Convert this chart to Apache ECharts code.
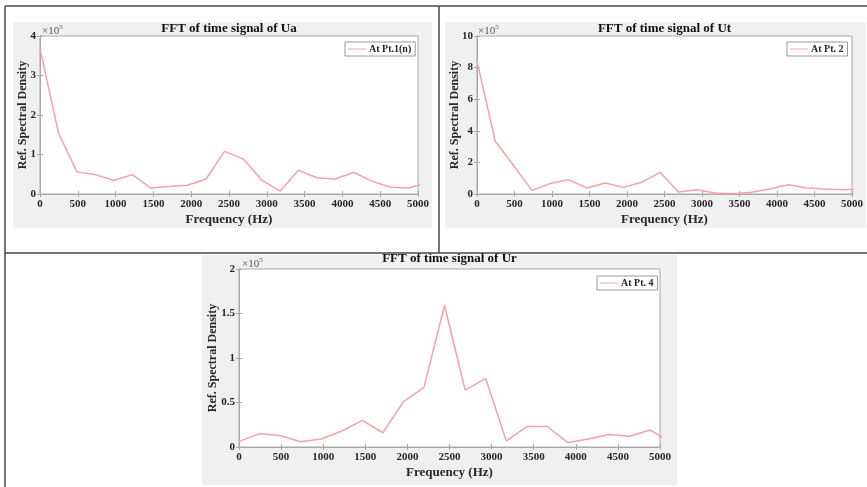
<!DOCTYPE html>
<html>
<head>
<meta charset="utf-8">
<script src="https://cdn.jsdelivr.net/npm/echarts@6/dist/echarts.min.js"></script>
<style>
  html, body { margin: 0; padding: 0; background: #fff; }
  #chart { width: 867px; height: 487px; }
</style>
</head>
<body>
<div id="chart"></div>
<script>
// FFT bins (Hz) shared by all three spectra
const freqHz = [0, 244, 488, 732, 977, 1221, 1465, 1709, 1953, 2197, 2441,
                2686, 2930, 3174, 3418, 3662, 3906, 4150, 4395, 4639, 4883, 5127];

// Reference spectral density, in units of 1e5
const densityUa = [3.68, 1.55, 0.56, 0.49, 0.34, 0.49, 0.15, 0.19, 0.22, 0.38, 1.08,
                   0.89, 0.36, 0.07, 0.60, 0.41, 0.38, 0.55, 0.32, 0.17, 0.15, 0.29];
const densityUt = [8.41, 3.34, 1.80, 0.23, 0.66, 0.91, 0.38, 0.70, 0.42, 0.74, 1.37,
                   0.13, 0.27, 0.06, 0.02, 0.11, 0.32, 0.59, 0.38, 0.32, 0.27, 0.33];
const densityUr = [0.06, 0.15, 0.13, 0.06, 0.09, 0.18, 0.30, 0.16, 0.51, 0.67, 1.59,
                   0.64, 0.77, 0.07, 0.23, 0.23, 0.05, 0.09, 0.14, 0.12, 0.19, 0.06];

const titles = ['FFT of time signal of Ua', 'FFT of time signal of Ut', 'FFT of time signal of Ur'];
const seriesNames = ['At Pt.1(n)', 'At Pt. 2', 'At Pt. 4'];
const yMax = [4, 10, 2];
const yStep = [1, 2, 0.5];
const xTicks = { min: 0, max: 5000, interval: 500 };
const exponentLabel = '5';

const FONT = '"Liberation Serif", "DejaVu Serif", serif';
const LINE = '#f5a2a8';
const AXIS = '#a9a9a9';
const TEXT = '#262626';

// plot boxes [left, top, width, height]
const boxes = [
  [40, 36, 378, 158],
  [477, 36, 375, 158],
  [239, 269, 421, 178]
];
const yNameGap = [11, 16, 20];
const titleTop = [22, 22, 252];
const legendPos = [[345, 42], [787, 42], [597, 276]];

const chart = echarts.init(document.getElementById('chart'), null, { renderer: 'canvas' });

const grids = [], xAxes = [], yAxes = [], series = [], legends = [], titleList = [];
const data = [densityUa, densityUt, densityUr];
const plain = v => String(v);

boxes.forEach((b, i) => {
  grids.push({
    left: b[0], top: b[1], width: b[2], height: b[3],
    show: true, backgroundColor: '#ffffff', borderColor: AXIS, borderWidth: 1
  });
  const axisLine = { show: true, lineStyle: { color: AXIS, width: 1 } };
  const tick = { show: true, inside: true, length: 3, lineStyle: { color: AXIS } };
  // bottom + top x axes
  xAxes.push({
    type: 'value', gridIndex: i, ...xTicks, position: 'bottom',
    axisLine, axisTick: tick, splitLine: { show: false },
    axisLabel: { margin: 5, color: TEXT, fontFamily: FONT, fontWeight: 'bold', fontSize: 11, formatter: plain },
    name: 'Frequency (Hz)', nameLocation: 'middle', nameGap: 19,
    nameTextStyle: { color: TEXT, fontFamily: FONT, fontWeight: 'bold', fontSize: 13 }
  });
  xAxes.push({
    type: 'value', gridIndex: i, ...xTicks, position: 'top',
    axisLine, axisTick: tick, splitLine: { show: false }, axisLabel: { show: false }
  });
  // left + right y axes
  yAxes.push({
    type: 'value', gridIndex: i, min: 0, max: yMax[i], interval: yStep[i], position: 'left',
    axisLine, axisTick: tick, splitLine: { show: false },
    axisLabel: { margin: 4, color: TEXT, fontFamily: FONT, fontWeight: 'bold', fontSize: 11, formatter: plain },
    name: 'Ref. Spectral Density', nameLocation: 'middle', nameGap: yNameGap[i],
    nameMoveOverlap: false,
    nameTextStyle: { color: TEXT, fontFamily: FONT, fontWeight: 'bold', fontSize: 12 }
  });
  yAxes.push({
    type: 'value', gridIndex: i, min: 0, max: yMax[i], interval: yStep[i], position: 'right',
    axisLine, axisTick: tick, splitLine: { show: false }, axisLabel: { show: false }
  });
  series.push({
    type: 'line', name: seriesNames[i], xAxisIndex: i * 2, yAxisIndex: i * 2,
    data: freqHz.map((f, k) => [f, data[i][k]]),
    showSymbol: false, clip: true, animation: false,
    lineStyle: { color: LINE, width: 1.5 }, itemStyle: { color: LINE }
  });
  legends.push({
    data: [seriesNames[i]], left: legendPos[i][0], top: legendPos[i][1],
    orient: 'vertical', itemWidth: 18, itemHeight: 8, itemGap: 0,
    padding: [2, 4, 2, 3], borderColor: '#9a9a9a', borderWidth: 1, backgroundColor: '#fff',
    icon: 'path://M0,4 L18,4 L18,5 L0,5 Z',
    textStyle: { color: TEXT, fontFamily: FONT, fontWeight: 'bold', fontSize: 10, padding: [0, 0, 0, -2] }
  });
  titleList.push({
    text: titles[i], left: b[0] + b[2] / 2, top: titleTop[i], textAlign: 'center', padding: 0,
    textStyle: { color: '#111', fontFamily: FONT, fontWeight: 'bold', fontSize: 13 }
  });
});

// exponent markers above each y axis
const exponent = (x, y) => ({
  type: 'text', left: x, top: y, z: 10,
  style: {
    text: '{b|×10}{s|' + exponentLabel + '}',
    rich: {
      b: { fontFamily: FONT, fontSize: 11, fill: '#555', verticalAlign: 'bottom' },
      s: { fontFamily: FONT, fontSize: 7, fill: '#555', verticalAlign: 'top', padding: [0, 0, 6, 0] }
    }
  }
});

const frame = { stroke: '#4a4a4a', lineWidth: 1.5 };
const graphics = [
  // figure backgrounds
  { type: 'rect', shape: { x: 13, y: 22, width: 419, height: 206 }, style: { fill: '#f0f0f0' }, z: -10 },
  { type: 'rect', shape: { x: 445, y: 22, width: 421, height: 206 }, style: { fill: '#f0f0f0' }, z: -10 },
  { type: 'rect', shape: { x: 202, y: 255, width: 475, height: 230 }, style: { fill: '#f0f0f0' }, z: -10 },
  // panel frames
  { type: 'line', shape: { x1: 5, y1: 6, x2: 867, y2: 6 }, style: frame, z: 20 },
  { type: 'line', shape: { x1: 5, y1: 6, x2: 5, y2: 487 }, style: frame, z: 20 },
  { type: 'line', shape: { x1: 439, y1: 6, x2: 439, y2: 253 }, style: frame, z: 20 },
  { type: 'line', shape: { x1: 5, y1: 253, x2: 867, y2: 253 }, style: frame, z: 20 },
  exponent(42, 24),
  exponent(478, 24),
  exponent(242, 257)
];

chart.setOption({
  backgroundColor: '#ffffff',
  animation: false,
  title: titleList,
  grid: grids,
  xAxis: xAxes,
  yAxis: yAxes,
  legend: legends,
  series: series,
  graphic: graphics
});
</script>
</body>
</html>
